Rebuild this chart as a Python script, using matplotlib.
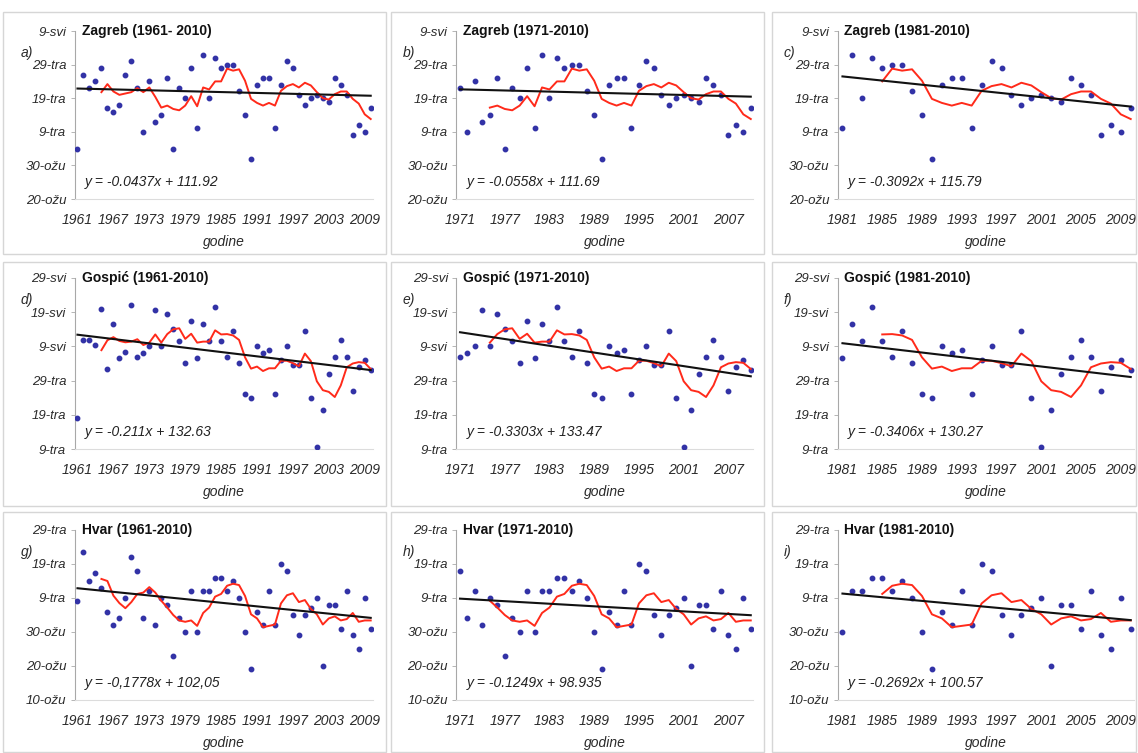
import matplotlib
matplotlib.use("Agg")
import matplotlib.pyplot as plt
from matplotlib.patches import Rectangle
import pandas as pd

# ---------------- data ----------------
years = list(range(1961, 2011))

zagreb = [94, 116, 112, 114, 118, 106, 105, 107, 116, 120,
          112, 99, 114, 102, 104, 115, 94, 112, 109, 118,
          100, 122, 109, 121, 118, 119, 119, 111, 104, 91,
          113, 115, 115, 100, 113, 120, 118, 110, 107, 109,
          110, 109, 108, 115, 113, 110, 98, 101, 99, 106]

gospic = [108, 131, 131, 129.5, 140, 122.5, 135.5, 125.5, 127.5, 141,
          126, 127, 129, 139.5, 129, 138.5, 134, 130.5, 124, 136.5,
          125.5, 135.5, 130.5, 140.5, 130.5, 126, 133.5, 124, 115, 114,
          129, 127, 128, 115, 125, 129, 123.5, 123.5, 133.5, 114,
          99.5, 110.5, 121, 126, 131, 126, 116, 123, 125, 122]

hvar = [98, 112.5, 104, 106.5, 102, 95, 91, 93, 99, 111,
        107, 93, 101, 91, 99, 97, 82, 93, 89, 101,
        89, 101, 101, 105, 105, 101, 104, 99, 89, 78,
        95, 91, 101, 91, 109, 107, 94, 88, 94, 96,
        99, 79, 97, 97, 90, 101, 88, 84, 99, 90]

stations = ["Zagreb", "Gospić", "Hvar"]
station_data = [zagreb, gospic, hvar]
period_starts = [1961, 1971, 1981]
period_end = 2010

titles = [["Zagreb (1961- 2010)", "Zagreb (1971-2010)", "Zagreb (1981-2010)"],
          ["Gospić (1961-2010)", "Gospić (1971-2010)", "Gospić (1981-2010)"],
          ["Hvar (1961-2010)", "Hvar (1971-2010)", "Hvar (1981-2010)"]]

slopes = [[-0.0437, -0.0558, -0.3092],
          [-0.211, -0.3303, -0.3406],
          [-0.1778, -0.1249, -0.2692]]
intercepts = [[111.92, 111.69, 115.79],
              [132.63, 133.47, 130.27],
              [102.05, 98.935, 100.57]]
eq_labels = [["y = -0.0437x + 111.92", "y = -0.0558x + 111.69", "y = -0.3092x + 115.79"],
             ["y = -0.211x + 132.63", "y = -0.3303x + 133.47", "y = -0.3406x + 130.27"],
             ["y = -0,1778x + 102,05", "y = -0.1249x + 98.935", "y = -0.2692x + 100.57"]]

panel_letters = [["a)", "b)", "c)"], ["d)", "e)", "f)"], ["g)", "h)", "i)"]]

ytick_vals = [[79, 89, 99, 109, 119, 129],
              [99, 109, 119, 129, 139, 149],
              [69, 79, 89, 99, 109, 119]]
ytick_labels = [["20-ožu", "30-ožu", "9-tra", "19-tra", "29-tra", "9-svi"],
                ["9-tra", "19-tra", "29-tra", "9-svi", "19-svi", "29-svi"],
                ["10-ožu", "20-ožu", "30-ožu", "9-tra", "19-tra", "29-tra"]]

xtick_step = [6, 6, 4]
xlabel = "godine"
ma_window = 5

# ---------------- layout ----------------
W, H = 1138, 753
fig = plt.figure(figsize=(W / 100, H / 100), dpi=100)
fig.patch.set_facecolor("white")

FONT = ["Liberation Sans", "DejaVu Sans"]
plt.rcParams["font.family"] = FONT

col_left = [74.5, 456.3, 837.5]
col_right = [372.5, 753.0, 1133.7]
row_top = [31, 278, 530]
row_bot = [199, 449, 700]

box_x = [(3, 386), (391, 764), (772, 1136)]
box_y = [(12, 254), (262, 506), (512, 752)]

def fx(px):
    return px / W

def fy(py):
    return 1 - py / H

TXT = "#2a2a2a"
PT_COLOR = "#3232a6"
RED = "#ff2a1a"

for r in range(3):
    for c in range(3):
        # panel frame
        bx0, bx1 = box_x[c]
        by0, by1 = box_y[r]
        fig.patches.append(Rectangle((fx(bx0), fy(by1)), fx(bx1 - bx0), (by1 - by0) / H,
                                     transform=fig.transFigure, fill=False,
                                     edgecolor="#d6d6d6", linewidth=1.0))

        left, right = col_left[c], col_right[c]
        top, bot = row_top[r], row_bot[r]
        ax = fig.add_axes([fx(left), fy(bot), fx(right - left), (bot - top) / H])
        ax.set_facecolor("none")

        y0 = period_starts[c]
        i0 = years.index(y0)
        yrs = years[i0:]
        vals = station_data[r][i0:]

        # points
        ax.plot(yrs, vals, linestyle="none", marker="o", ms=3.2,
                color=PT_COLOR, zorder=3)
        # moving average (trailing, 5 yr)
        ma = pd.Series(vals, index=yrs).rolling(ma_window).mean()
        ax.plot(ma.index, ma.values, color=RED, lw=1.4, zorder=4)
        # linear trend from the equation printed on the chart
        xi = pd.Series(range(1, len(yrs) + 1), index=yrs)
        trend = slopes[r][c] * xi + intercepts[r][c]
        ax.plot(trend.index, trend.values, color="#111111", lw=1.5, zorder=5)

        ax.set_xlim(y0 - 0.5, period_end + 0.3)
        ax.set_ylim(ytick_vals[r][0], ytick_vals[r][-1])
        ax.set_yticks(ytick_vals[r])
        ax.set_yticklabels(ytick_labels[r], fontsize=9.5, style="italic", color=TXT)
        xt = list(range(y0, period_end + 1, xtick_step[c]))
        ax.set_xticks(xt)
        ax.set_xticklabels([str(v) for v in xt], fontsize=10, style="italic", color=TXT)
        ax.tick_params(axis="x", length=0, pad=10)
        ax.tick_params(axis="y", length=3, width=0.6, color="#aaaaaa", pad=3)

        for s in ["top", "right"]:
            ax.spines[s].set_visible(False)
        ax.spines["left"].set_color("#a8a8a8")
        ax.spines["left"].set_linewidth(0.8)
        ax.spines["bottom"].set_color("#dcdcdc")
        ax.spines["bottom"].set_linewidth(0.8)

        # title
        fig.text(fx(left + 7), fy(top), titles[r][c], fontsize=10, fontweight="bold",
                 color="#111111", ha="left", va="center")
        # panel letter
        fig.text(fx(left - 54), fy(top + 22), panel_letters[r][c], fontsize=10,
                 style="italic", color=TXT, ha="left", va="center")
        # equation
        fig.text(fx(left + 10), fy(bot - 17), eq_labels[r][c], fontsize=10,
                 style="italic", color="#222222", ha="left", va="center")
        # x label
        fig.text(fx((left + right) / 2), fy(bot + 43), xlabel, fontsize=10,
                 style="italic", color=TXT, ha="center", va="center")

fig.savefig("out.png", dpi=100, facecolor="white")
